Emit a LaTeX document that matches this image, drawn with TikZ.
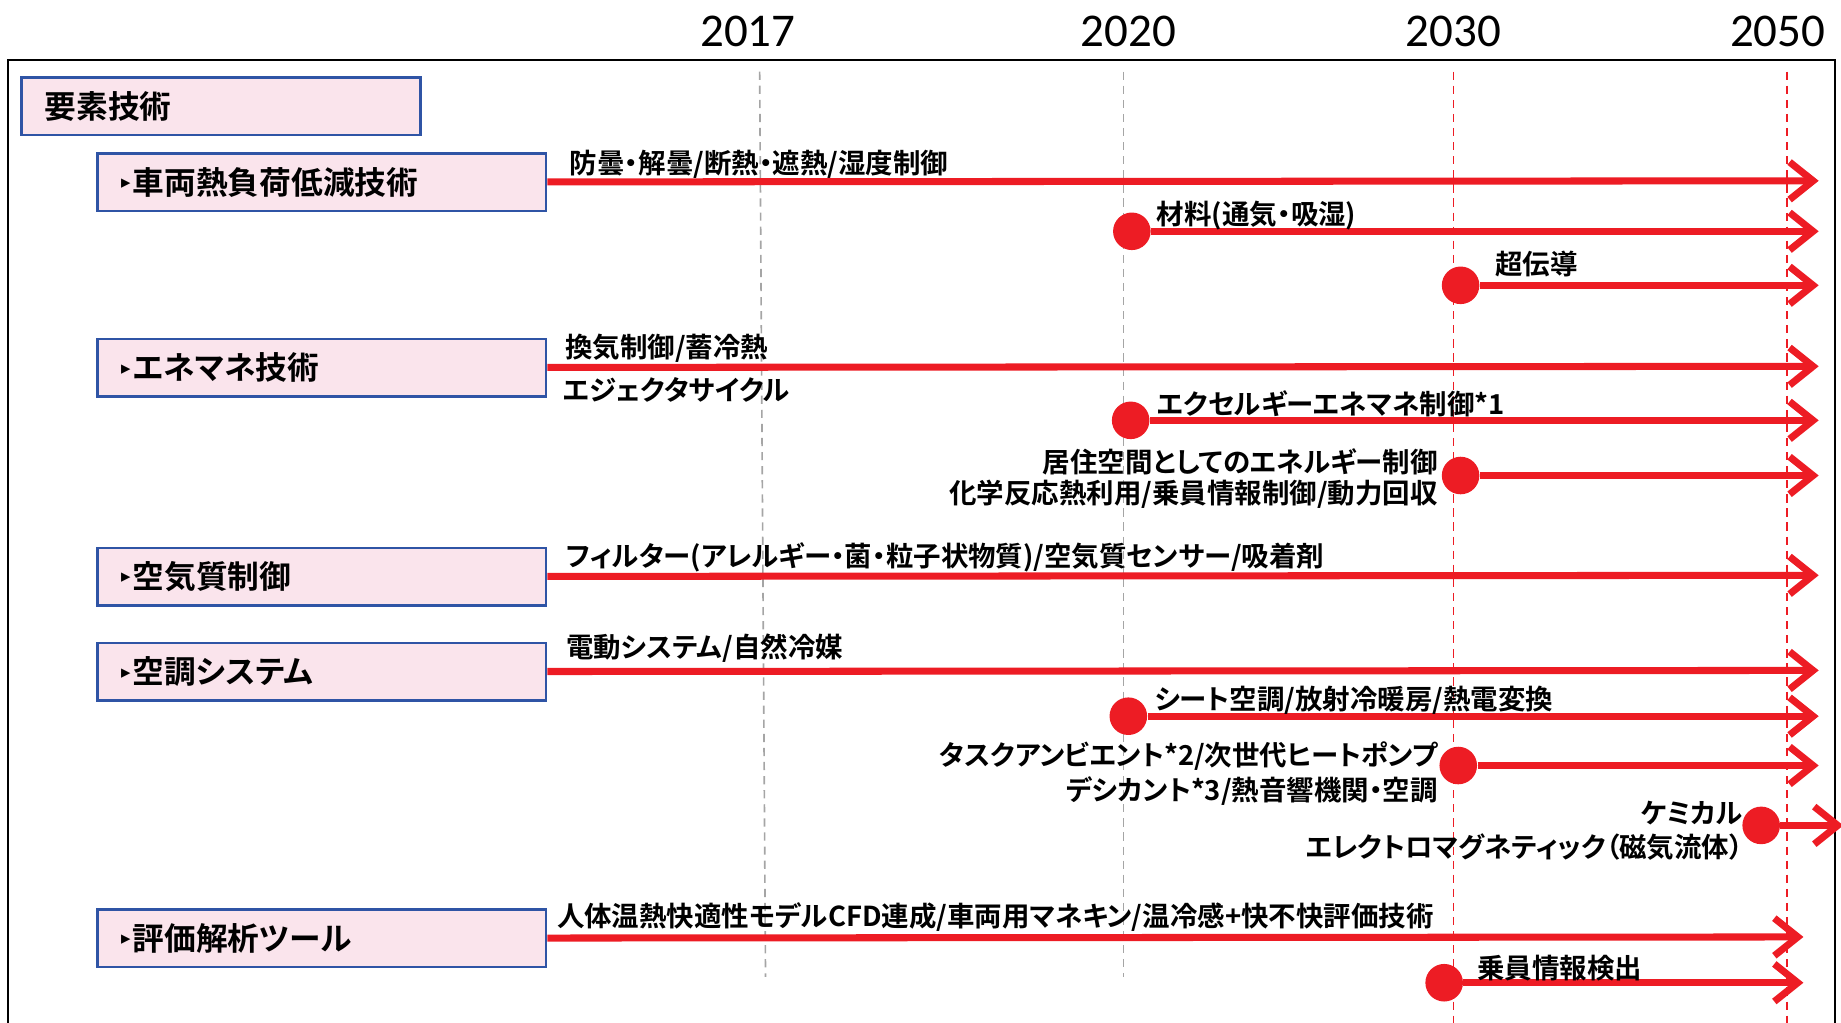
\documentclass[tikz,border=0pt]{standalone}
\usepackage{fontspec}
\setmainfont{Noto Sans CJK JP}[BoldFont={Noto Sans CJK JP Bold}, RawFeature=+palt]
\newfontfamily\yearfont{Carlito}
\newfontfamily\markfont{DejaVu Sans}
\usetikzlibrary{
		arrows.meta,
		positioning
	}
\definecolor{roadred}{RGB}{237,28,36}
\definecolor{boxpink}{RGB}{250,228,236}
\definecolor{boxblue}{RGB}{47,84,165}
\definecolor{guidegray}{RGB}{165,165,165}
\tikzset{
		>={Straight Barb[length=10pt,width=16pt]},
		year/.style={font=\yearfont\fontsize{20}{24}\selectfont, inner sep=0pt},
		techbox/.style={draw=boxblue, fill=boxpink, line width=1.1pt, anchor=north west, inner xsep=10pt,
			text width=#1, minimum height=24.5pt, align=left, font=\bfseries\fontsize{13.5}{16}\selectfont},
		flow/.style={draw=roadred, line width=3pt, ->},
		dot/.style={circle, fill=roadred, minimum size=16pt, inner sep=0pt},
		lbl/.style={font=\bfseries\fontsize{11.7}{14}\selectfont, inner sep=0pt, text height=9.4pt, text depth=1.2pt},
		graydash/.style={draw=guidegray, line width=0.7pt, dash pattern=on 3.5pt off 2.5pt},
		reddash/.style={draw=roadred, line width=0.7pt, dash pattern=on 3.5pt off 2.5pt}
	}
\newcommand\tri{\raisebox{2.4pt}{\markfont\fontsize{8}{8}\selectfont ▸}\hspace{1pt}}

\begin{document}
\begin{tikzpicture}[x=0.5pt, y=-0.5pt] % one unit = one pixel of the 1568 x 871 sketch
		\useasboundingbox (0,0) rectangle (1568,871);
		% years and their guide lines
		\foreach \yr/\xt/\xb/\xl/\yb/\kind in {2017/647/652/637/832/graydash, 2020/957/957/961/832/graydash,
			2030/1238/1238/1238/871/reddash, 2050/1522/1522/1514/871/reddash}{
			\node[year] (y\yr) at (\xl,27) {\yr};
			\draw[\kind] (\xt,61) -- (\xb,\yb);
		}
		\draw[line width=0.8pt] (7,880) -- (7,51) -- (1563,51) -- (1563,880); % the frame

		% boxes
		\node[techbox=150pt] (root) at (17,65) {要素技術};
		\node[techbox=171pt] (heat) at (82,129.5) {\tri 車両熱負荷低減技術};
		\node[techbox=171pt] (enm) at (82,287.5) {\tri エネマネ技術};
		\node[techbox=171pt] (air) at (82,465.5) {\tri 空気質制御};
		\node[techbox=171pt] (hvac) at (82,546.5) {\tri 空調システム};
		\node[techbox=171pt] (eval) at (82,773.5) {\tri 評価解析ツール};

		% starting points
		\node[dot] (mat) at (964,197) {};
		\node[dot] (sc) at (1244,243) {};
		\node[dot] (exg) at (963,358) {};
		\node[dot] (live) at (1244,405) {};
		\node[dot] (seat) at (961,610) {};
		\node[dot] (task) at (1242,652) {};
		\node[dot] (chem) at (1500,703) {};
		\node[dot] (sens) at (1230,837) {};

		% ends
		\coordinate (heatend) at (1549,154);
		\coordinate (matend) at (1549,197);
		\coordinate (scend) at (1549,243);
		\coordinate (enmend) at (1549,312);
		\coordinate (exgend) at (1549,358);
		\coordinate (liveend) at (1549,405);
		\coordinate (airend) at (1549,490);
		\coordinate (hvacend) at (1549,571);
		\coordinate (seatend) at (1549,610);
		\coordinate (taskend) at (1549,652);
		\coordinate (chemend) at (1570,703);
		\coordinate (evalend) at (1536,798);
		\coordinate (sensend) at (1536,837);

		\foreach \a in {heat,mat,sc,enm,exg,live,air,hvac,seat,task,chem,eval,sens}
			\draw[flow] (\a) -- (\a end);

		% labels
		\node[lbl, anchor=west] (l1) at (485,140) {防曇・解曇/断熱・遮熱/湿度制御};
		\node[lbl, anchor=west] (l2) at (985,183) {材料(通気・吸湿)};
		\node[lbl, anchor=west] (l3) at (1273,226) {超伝導};
		\node[lbl, anchor=west] (l4) at (481,296) {換気制御/蓄冷熱};
		\node[lbl, anchor=west] (l5) at (479,333) {エジェクタサイクル};
		\node[lbl, anchor=west] (l6) at (985,345) {エクセルギーエネマネ制御*1};
		\node[lbl, anchor=east] (l7) at (1225,394) {居住空間としてのエネルギー制御};
		\node[lbl, anchor=east] (l8) at (1225,421) {化学反応熱利用/乗員情報制御/動力回収};
		\node[lbl, anchor=west] (l9) at (482,474) {フィルター(アレルギー・菌・粒子状物質)/空気質センサー/吸着剤};
		\node[lbl, anchor=west] (l10) at (482,552) {電動システム/自然冷媒};
		\node[lbl, anchor=west] (l11) at (983,596) {シート空調/放射冷暖房/熱電変換};
		\node[lbl, anchor=east] (l12) at (1225,644) {タスクアンビエント*2/次世代ヒートポンプ};
		\node[lbl, anchor=east] (l13) at (1225,674) {デシカント*3/熱音響機関・空調};
		\node[lbl, anchor=east] (l14) at (1485,693) {ケミカル};
		\node[lbl, anchor=east] (l15) at (1485,722) {エレクトロマグネティック（磁気流体）};
		\node[lbl, anchor=west] (l16) at (474,781) {人体温熱快適性モデルCFD連成/車両用マネキン/温冷感+快不快評価技術};
		\node[lbl, anchor=west] (l17) at (1258,825) {乗員情報検出};
	\end{tikzpicture}
\end{document}
